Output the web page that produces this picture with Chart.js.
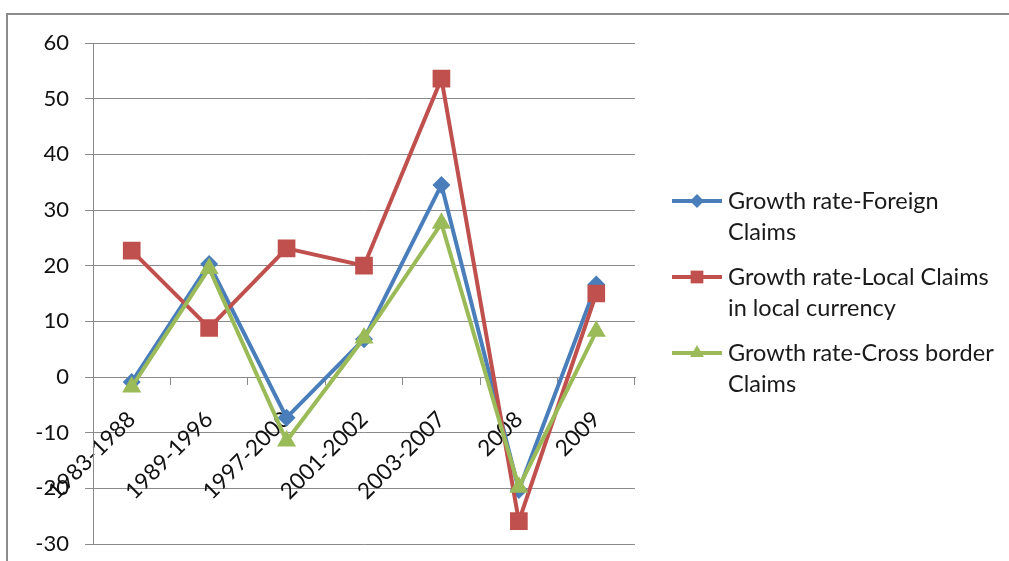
<!DOCTYPE html>
<html>
<head>
<meta charset="utf-8">
<script src="https://cdn.jsdelivr.net/npm/chart.js@4.4.1/dist/chart.umd.min.js"></script>
<style>
  html, body { margin: 0; padding: 0; background: #fff; }
  #wrap { width: 1009px; height: 561px; position: relative; }
</style>
</head>
<body>
<div id="wrap"><canvas id="chart"></canvas></div>
<script>
const categories = ['1983-1988', '1989-1996', '1997-2000', '2001-2002', '2003-2007', '2008', '2009'];
const foreignClaims = [-0.9, 20.3, -7.3, 6.8, 34.5, -20.3, 16.6];
const localClaims = [22.7, 8.8, 23.1, 20, 53.6, -25.9, 15];
const crossBorderClaims = [-1.8, 19.5, -11.5, 7, 27.6, -19.8, 8.2];
const yMin = -30, yMax = 60, yStep = 10;

const seriesNames = [
  ['Growth rate-Foreign', 'Claims'],
  ['Growth rate-Local Claims', 'in local currency'],
  ['Growth rate-Cross border', 'Claims']
];

const FONT = 'Lato, "Open Sans", sans-serif';
const GRID = '#8a8a8a';

// gray frame round the whole chart, like the office chart object
const framePlugin = {
  id: 'frame',
  beforeDraw(chart) {
    const c = chart.ctx;
    c.save();
    c.strokeStyle = '#8c8c8c';
    c.lineWidth = 2;
    c.strokeRect(7, 14, 1100, 700);
    c.restore();
  }
};

// legend with two-line labels on the right
const sideLegend = {
  id: 'sideLegend',
  afterDraw(chart) {
    const c = chart.ctx;
    const rows = [201, 277, 353];
    chart.data.datasets.forEach((ds, i) => {
      const y = rows[i];
      c.save();
      c.strokeStyle = ds.borderColor;
      c.lineWidth = 4;
      c.beginPath();
      c.moveTo(672, y);
      c.lineTo(722, y);
      c.stroke();
      c.fillStyle = ds.borderColor;
      c.strokeStyle = ds.borderColor;
      Chart.helpers.drawPoint(c, {pointStyle: ds.pointStyle, radius: ds.legendRadius, rotation: 0, borderWidth: 0}, 697, y);
      c.fillStyle = '#1a1a1a';
      c.font = '23.5px ' + FONT;
      c.textBaseline = 'middle';
      c.textAlign = 'left';
      seriesNames[i].forEach((line, k) => c.fillText(line, 728, y + k * 31));
      c.restore();
    });
  }
};

new Chart(document.getElementById('chart'), {
  type: 'line',
  data: {
    labels: categories,
    datasets: [{
      label: seriesNames[0].join(' '),
      data: foreignClaims,
      borderColor: '#4a7ebb',
      backgroundColor: '#4a7ebb',
      borderWidth: 4,
      pointStyle: 'rectRot',
      pointRadius: 9,
      legendRadius: 7,
      pointBorderWidth: 0,
      order: 2
    }, {
      label: seriesNames[1].join(' '),
      data: localClaims,
      borderColor: '#c0504d',
      backgroundColor: '#c0504d',
      borderWidth: 4,
      pointStyle: 'rect',
      pointRadius: 12.5,
      legendRadius: 9,
      pointBorderWidth: 0,
      order: 1
    }, {
      label: seriesNames[2].join(' '),
      data: crossBorderClaims,
      borderColor: '#9bbb59',
      backgroundColor: '#9bbb59',
      borderWidth: 4,
      pointStyle: 'triangle',
      pointRadius: 11,
      legendRadius: 8,
      pointBorderWidth: 0,
      order: 0
    }]
  },
  options: {
    responsive: true,
    maintainAspectRatio: false,
    animation: false,
    layout: { padding: { top: 43, right: 374, bottom: 17, left: 0 } },
    scales: {
      x: {
        position: { y: 0 },
        offset: true,
        grid: { offset: true, drawOnChartArea: false, tickLength: 7, color: GRID },
        border: { color: GRID, width: 1 },
        ticks: {
          autoSkip: false, minRotation: 45, maxRotation: 45, padding: 22,
          color: '#111', font: { size: 22.5, family: FONT }
        }
      },
      y: {
        min: yMin, max: yMax,
        afterFit: s => { s.width = 93; s.paddingTop = 0; s.paddingBottom = 0; },
        grid: { color: GRID, tickLength: 8 },
        border: { color: GRID, width: 1 },
        ticks: {
          stepSize: yStep, padding: 16,
          color: '#111', font: { size: 22, family: FONT }
        }
      }
    },
    plugins: {
      legend: { display: false },
      tooltip: { enabled: false }
    }
  },
  plugins: [framePlugin, sideLegend]
});
</script>
</body>
</html>
